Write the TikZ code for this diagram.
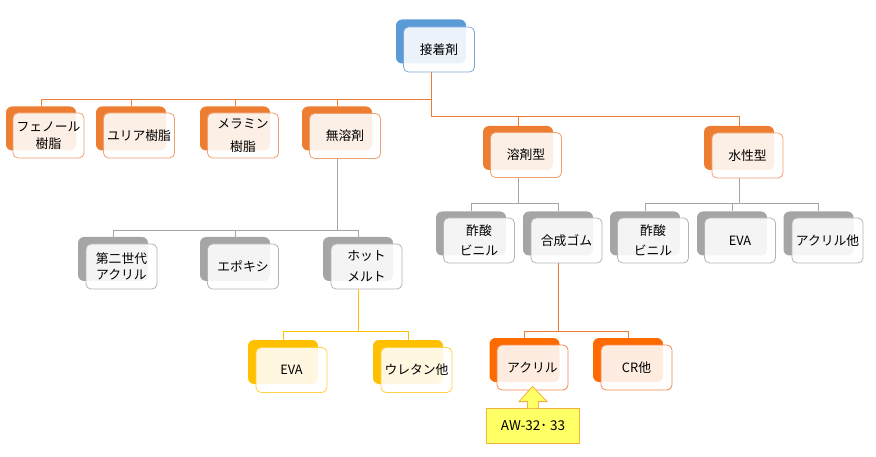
\documentclass[tikz,border=0pt]{standalone}
\usepackage{fontspec}
\setmainfont{Noto Sans CJK JP}
\definecolor{cBlue}{HTML}{5B9BD5}
\definecolor{cBlueL}{HTML}{7DA7DA}
\definecolor{cOrange}{HTML}{ED7D31}
\definecolor{cOrangeL}{HTML}{F0A070}
\definecolor{cGray}{HTML}{A5A5A5}
\definecolor{cGrayL}{HTML}{B4B4B4}
\definecolor{cYellow}{HTML}{FFC000}
\definecolor{cYellowL}{HTML}{FFD246}
\definecolor{cRed}{HTML}{FF6A00}
\definecolor{cRedL}{HTML}{F08850}
\definecolor{cNote}{HTML}{FFFF66}
\definecolor{cNoteL}{HTML}{F5B041}

\tikzset{
  orgback/.style={rounded corners=6pt, minimum width=70pt, minimum height=44pt,
    inner sep=0pt, fill=#1},
  orgfront/.style={rounded corners=5pt, minimum width=71pt, minimum height=45pt,
    inner sep=0pt, draw=#1, line width=0.8pt, fill=white, fill opacity=0.88,
    text opacity=1, align=center},
  elbow/.style={to path={(\tikztostart) |- ([yshift=#1]\tikztotarget) -- (\tikztotarget)}},
  elbow/.default=7pt,
  link/.style={draw=#1, line width=0.8pt},
}

\begin{document}
\begin{tikzpicture}[x=1pt,y=-1pt,font=\fontsize{12.8}{17}\selectfont]
\useasboundingbox (0,0) rectangle (876,457);

\node[orgback=cBlue] (setsu-b) at (431,41.5) {};
\node[orgfront=cBlueL] (setsu) at (439,49.5) {接着剤};

\node[orgback=cOrange] (phenol-b) at (41,128.5) {};
\node[orgfront=cOrangeL] (phenol) at (48.5,135.5) {フェノール\\樹脂};
\node[orgback=cOrange] (yuria-b) at (131,128.5) {};
\node[orgfront=cOrangeL] (yuria) at (139,135.5) {ユリア樹脂};
\node[orgback=cOrange] (melamine-b) at (235,128.5) {};
\node[orgfront=cOrangeL] (melamine) at (243,135.5) {メラミン\\[6pt]樹脂};
\node[orgback=cOrange] (muyozai-b) at (337,128.5) {};
\node[orgfront=cOrangeL] (muyozai) at (345,136) {無溶剤};
\node[orgback=cOrange] (yozai-b) at (518,148) {};
\node[orgfront=cOrangeL] (yozai) at (526,155) {溶剤型};
\node[orgback=cOrange] (suisei-b) at (739,148) {};
\node[orgfront=cOrangeL] (suisei) at (747.5,155.5) {水性型};

\node[orgback=cGray] (daini-b) at (113,259) {};
\node[orgfront=cGrayL] (daini) at (121.5,266.5) {第二世代\\[-1pt]アクリル};
\node[orgback=cGray] (epoxy-b) at (235,259) {};
\node[orgfront=cGrayL] (epoxy) at (243,266.5) {エポキシ};
\node[orgback=cGray] (hotmelt-b) at (358,259) {};
\node[orgfront=cGrayL] (hotmelt) at (366.5,266.5) {ホット\\[4pt]メルト};

\node[orgback=cGray] (sakusan-b) at (471,233.5) {};
\node[orgfront=cGrayL] (sakusan) at (479,240.5) {酢酸\\[3pt]ビニル};
\node[orgback=cGray] (gosei-b) at (558,233.5) {};
\node[orgfront=cGrayL] (gosei) at (566.5,240.5) {合成ゴム};
\node[orgback=cGray] (sakusan2-b) at (645,233.5) {};
\node[orgfront=cGrayL] (sakusan2) at (653,240.5) {酢酸\\[3pt]ビニル};
\node[orgback=cGray] (eva-b) at (732,233.5) {};
\node[orgfront=cGrayL] (eva) at (740,240.5) {EVA};
\node[orgback=cGray] (acrylta-b) at (818.5,233.5) {};
\node[orgfront=cGrayL] (acrylta) at (827.5,240.5) {アクリル他};

\node[orgback=cYellow] (eva2-b) at (283,362) {};
\node[orgfront=cYellowL] (eva2) at (291.5,370) {EVA};
\node[orgback=cYellow] (urethane-b) at (408,362) {};
\node[orgfront=cYellowL] (urethane) at (416.5,370) {ウレタン他};

\node[orgback=cRed] (acryl-b) at (524.5,360) {};
\node[orgfront=cRedL] (acryl) at (532.5,367.5) {アクリル};
\node[orgback=cRed] (cr-b) at (628,360) {};
\node[orgfront=cRedL] (cr) at (636.5,367.5) {CR他};

% connectors
\path[link=cOrange, line width=1pt] (setsu-b |- setsu.south) edge[elbow] (phenol-b.north)
  edge[elbow] (yuria-b.north) edge[elbow] (melamine-b.north)
  edge[elbow] (muyozai-b.north)
  edge[elbow=9pt] (yozai-b.north) edge[elbow=9pt] (suisei-b.north);
\path[link=cGray] (muyozai-b |- muyozai.south) edge[elbow=6pt] (daini-b.north)
  edge[elbow=6pt] (epoxy-b.north) edge[elbow=6pt] (hotmelt-b.north);
\path[link=cGray] (yozai-b |- yozai.south) edge[elbow=8pt] (sakusan-b.north)
  edge[elbow=8pt] (gosei-b.north);
\path[link=cGray] (suisei-b |- suisei.south) edge[elbow=8pt] (sakusan2-b.north)
  edge[elbow=8pt] (eva-b.north) edge[elbow=8pt] (acrylta-b.north);
\path[link=cYellow] (hotmelt-b |- hotmelt.south) edge[elbow=8pt] (eva2-b.north)
  edge[elbow=8pt] (urethane-b.north);
\path[link=cOrange] (gosei-b |- gosei.south) edge[elbow=6pt] (acryl-b.north)
  edge[elbow=6pt] (cr-b.north);

% callout
\node[fill=cNote, draw=cNoteL, line width=0.8pt, minimum width=93pt,
  minimum height=35pt, inner sep=0pt, font=\fontsize{13.5}{16}\selectfont]
  (aw) at (533,425.5) {AW-32･ 33};
\path[fill=cNote, draw=cNoteL, line width=0.8pt]
  ([xshift=-5.5pt,yshift=-0.6pt]aw.north) -- ([xshift=-5.5pt,yshift=6pt]aw.north)
  -- ([xshift=-14pt,yshift=6pt]aw.north) -- ([yshift=4pt]acryl.south)
  -- ([xshift=14pt,yshift=6pt]aw.north) -- ([xshift=5.5pt,yshift=6pt]aw.north)
  -- ([xshift=5.5pt,yshift=-0.6pt]aw.north);
\end{tikzpicture}
\end{document}
